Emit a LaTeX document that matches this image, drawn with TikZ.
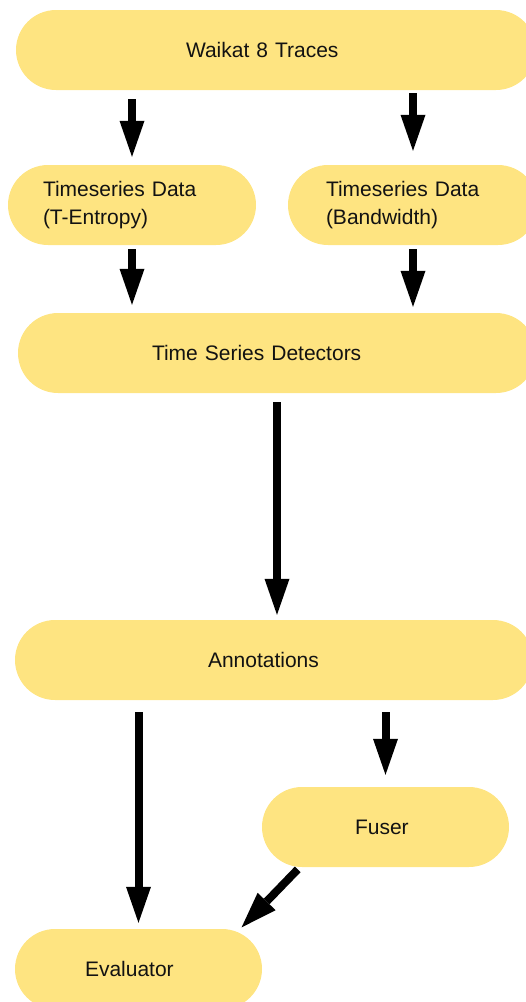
\documentclass[tikz,border=0pt]{standalone}
\usepackage{fontspec}
\setmainfont{Liberation Sans}
\usepackage{tikz}
\usetikzlibrary{arrows.meta}
\usepackage{xcolor}
\definecolor{pillyellow}{HTML}{FEE481}

\tikzset{
    pill/.style={rectangle, fill=pillyellow, rounded corners=40pt, minimum height=80pt,
        inner sep=0pt, align=left, text=black!93, font=\fontsize{21}{27.5}\selectfont},
    flow/.style={line width=8pt, -{Triangle[width=25pt,length=36pt,line width=0pt]}}
}

\begin{document}
\begin{tikzpicture}[x=1pt,y=-1pt]
    \useasboundingbox (0,0) rectangle (526,1002);
    \node[pill, minimum width=520pt, text width=180pt] (traces) at (276,50) {Waikat 8 Traces};
    \node[pill, minimum width=248pt, text width=178pt] (tentropy) at (132,205) {Timeseries Data\\(T-Entropy)};
    \node[pill, minimum width=250pt, text width=174pt] (bandwidth) at (413,205) {Timeseries Data\\(Bandwidth)};
    \node[pill, minimum width=518pt, text width=250pt] (detectors) at (277,353) {Time Series Detectors};
    \node[pill, minimum width=518pt, text width=132pt] (annotations) at (274,660) {Annotations};
    \node[pill, minimum width=247pt, text width=61pt] (fuser) at (385.5,827) {Fuser};
    \node[pill, minimum width=247pt, text width=107pt] (evaluator) at (138.5,969) {Evaluator};
    \draw[flow, shorten <=9pt, shorten >=8pt] (traces.south -| tentropy.north) -- (tentropy.north);
    \draw[flow, shorten <=3pt, shorten >=14pt] (traces.south -| bandwidth.north) -- (bandwidth.north);
    \draw[flow, shorten <=4pt, shorten >=8pt] (tentropy.south) -- (tentropy.south |- detectors.north);
    \draw[flow, shorten <=4pt, shorten >=6pt] (bandwidth.south) -- (bandwidth.south |- detectors.north);
    \draw[flow, shorten <=9pt, shorten >=5pt] (detectors.south) -- (detectors.south |- annotations.north);
    \draw[flow, shorten <=12pt, shorten >=6pt] (annotations.south -| evaluator.north) -- (evaluator.north);
    \draw[flow, shorten <=12pt, shorten >=12pt] (annotations.south -| fuser.north) -- (fuser.north);
    \draw[flow, shorten <=3pt, shorten >=2pt] ([xshift=38pt]fuser.south west) -- ([xshift=-22pt]evaluator.north east);
\end{tikzpicture}
\end{document}
